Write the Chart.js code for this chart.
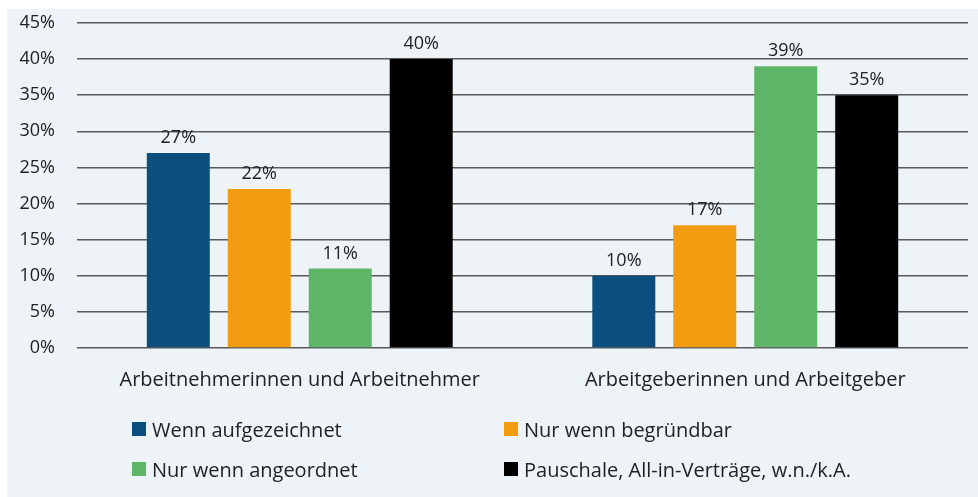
<!DOCTYPE html>
<html>
<head>
<meta charset="utf-8">
<script src="https://cdn.jsdelivr.net/npm/chart.js@4"></script>
<style>
  html, body { margin: 0; padding: 0; background: #ffffff; }
  #wrap { position: relative; width: 978px; height: 497px; overflow: hidden; }
  #panel { position: absolute; left: 7px; top: 9px; right: 0; bottom: 0; background: #edf3f7; }
  #chart { position: absolute; left: 0; top: 0; }
  #legend { position: absolute; left: 132px; top: 416px; width: 840px;
            display: grid; grid-template-columns: 372px 460px; row-gap: 14px;
            font-family: "Open Sans", sans-serif; font-size: 20px; color: #222; }
  .item { display: flex; align-items: center; height: 26px; white-space: nowrap; }
  .box { width: 14px; height: 14px; margin-right: 6px; }
</style>
</head>
<body>
<div id="wrap">
  <div id="panel"></div>
  <canvas id="chart" width="978" height="497"></canvas>
  <div id="legend"></div>
</div>
<script>
// Kategorien und Werte (Prozent)
var categories = ['Arbeitnehmerinnen und Arbeitnehmer', 'Arbeitgeberinnen und Arbeitgeber'];
var seriesNames = ['Wenn aufgezeichnet', 'Nur wenn begründbar', 'Nur wenn angeordnet', 'Pauschale, All-in-Verträge, w.n./k.A.'];
var wennAufgezeichnet = [27, 10];
var nurWennBegruendbar = [22, 17];
var nurWennAngeordnet = [11, 39];
var pauschale = [40, 35];
var yTicks = [0, 5, 10, 15, 20, 25, 30, 35, 40, 45];

var colors = ['#0c4e7e', '#f39c12', '#5fb567', '#000000'];
var FONT = '"Open Sans", sans-serif';

// Prozentwerte über den Balken zeichnen
var valueLabels = {
    id: 'valueLabels',
    afterDatasetsDraw: function (chart) {
        var ctx = chart.ctx;
        ctx.save();
        ctx.font = '18px ' + FONT;
        ctx.fillStyle = '#222';
        ctx.textAlign = 'center';
        ctx.textBaseline = 'bottom';
        chart.data.datasets.forEach(function (ds, i) {
            chart.getDatasetMeta(i).data.forEach(function (bar, j) {
                ctx.fillText(ds.data[j] + '%', bar.x, bar.y - 6);
            });
        });
        ctx.restore();
    }
};

var seriesData = [wennAufgezeichnet, nurWennBegruendbar, nurWennAngeordnet, pauschale];

var chart = new Chart(document.getElementById('chart'), {
    type: 'bar',
    data: {
        labels: categories,
        datasets: seriesNames.map(function (name, i) {
            return {
                label: name,
                data: seriesData[i],
                backgroundColor: colors[i],
                categoryPercentage: 0.727,
                barPercentage: 0.778
            };
        })
    },
    options: {
        responsive: false,
        animation: false,
        layout: { padding: { top: 23, right: 10, left: 0, bottom: 0 } },
        plugins: {
            legend: { display: false },
            tooltip: { enabled: false }
        },
        scales: {
            x: {
                grid: { display: false, drawTicks: false },
                border: { display: false },
                ticks: { color: '#222', font: { family: FONT, size: 20 }, padding: 20 },
                afterFit: function (scale) {
                    scale.height = 497 - 348;
                    scale.paddingLeft = 0;
                    scale.paddingRight = 0;
                }
            },
            y: {
                min: 0,
                max: 45,
                afterBuildTicks: function (scale) {
                    scale.ticks = yTicks.map(function (v) { return { value: v }; });
                },
                grid: { color: '#5a5a5a', lineWidth: 1.5, drawTicks: false },
                border: { display: false },
                ticks: {
                    color: '#222',
                    font: { family: FONT, size: 18 },
                    padding: 22,
                    callback: function (v) { return v + '%'; }
                },
                afterFit: function (scale) {
                    scale.width = 77;
                    scale.paddingTop = 0;
                    scale.paddingBottom = 0;
                }
            }
        }
    },
    plugins: [valueLabels]
});

// HTML-Legende in zwei Spalten
var legend = document.getElementById('legend');
chart.data.datasets.forEach(function (ds) {
    var item = document.createElement('div');
    item.className = 'item';
    var box = document.createElement('span');
    box.className = 'box';
    box.style.background = ds.backgroundColor;
    var txt = document.createElement('span');
    txt.textContent = ds.label;
    item.appendChild(box);
    item.appendChild(txt);
    legend.appendChild(item);
});
</script>
</body>
</html>
